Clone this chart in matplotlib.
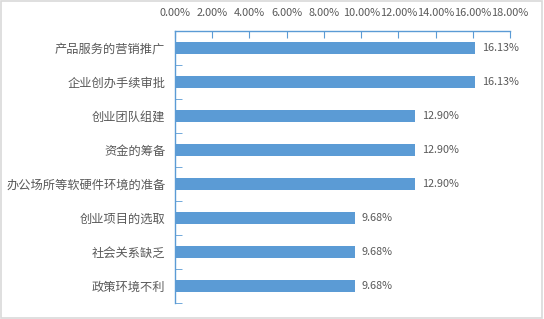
import numpy as np
import matplotlib
matplotlib.use("Agg")
import matplotlib.pyplot as plt
from matplotlib.ticker import FuncFormatter, MultipleLocator
from matplotlib.patches import Rectangle

plt.rcParams['font.family'] = ['Noto Sans CJK SC', 'DejaVu Sans']

categories = ['产品服务的营销推广', '企业创办手续审批', '创业团队组建', '资金的筹备',
              '办公场所等软硬件环境的准备', '创业项目的选取', '社会关系缺乏', '政策环境不利']
values = [16.13, 16.13, 12.90, 12.90, 12.90, 9.68, 9.68, 9.68]

bar_color = '#5B9BD5'
axis_color = '#5B9BD5'
text_color = '#595959'

fig = plt.figure(figsize=(5.44, 3.19), dpi=100)
ax = fig.add_axes([175 / 544, 1 - 303 / 319, 335 / 544, 272 / 319])

y = np.arange(len(categories))
ax.barh(y, values, height=0.36, color=bar_color)
for yi, v in zip(y, values):
    ax.text(v + 0.35, yi, f'{v:.2f}%', va='center', ha='left', fontsize=7.8, color=text_color)

ax.set_xlim(0, 18)
ax.set_ylim(len(categories) - 0.5, -0.5)
ax.xaxis.set_major_locator(MultipleLocator(2))
ax.xaxis.set_major_formatter(FuncFormatter(lambda x, p: f'{x:.2f}%'))
ax.xaxis.tick_top()
ax.tick_params(axis='x', direction='in', length=5, color=axis_color, labelsize=7.9,
               labelcolor=text_color, pad=9)

ax.set_yticks(y)
ax.set_yticklabels(categories, fontsize=8.8, color=text_color)
ax.tick_params(axis='y', length=0, pad=7)
ax.set_yticks(np.arange(len(categories) + 1) - 0.5, minor=True)
ax.tick_params(axis='y', which='minor', direction='in', length=5, color=axis_color)

for side in ['right', 'bottom']:
    ax.spines[side].set_visible(False)
for side in ['top', 'left']:
    ax.spines[side].set_color(axis_color)
    ax.spines[side].set_linewidth(1.0)

fig.patches.append(Rectangle((0.002, 0.003), 0.995, 0.994, transform=fig.transFigure,
                             fill=False, edgecolor='#D9D9D9', linewidth=1.2))

fig.savefig('out.png', dpi=100)
